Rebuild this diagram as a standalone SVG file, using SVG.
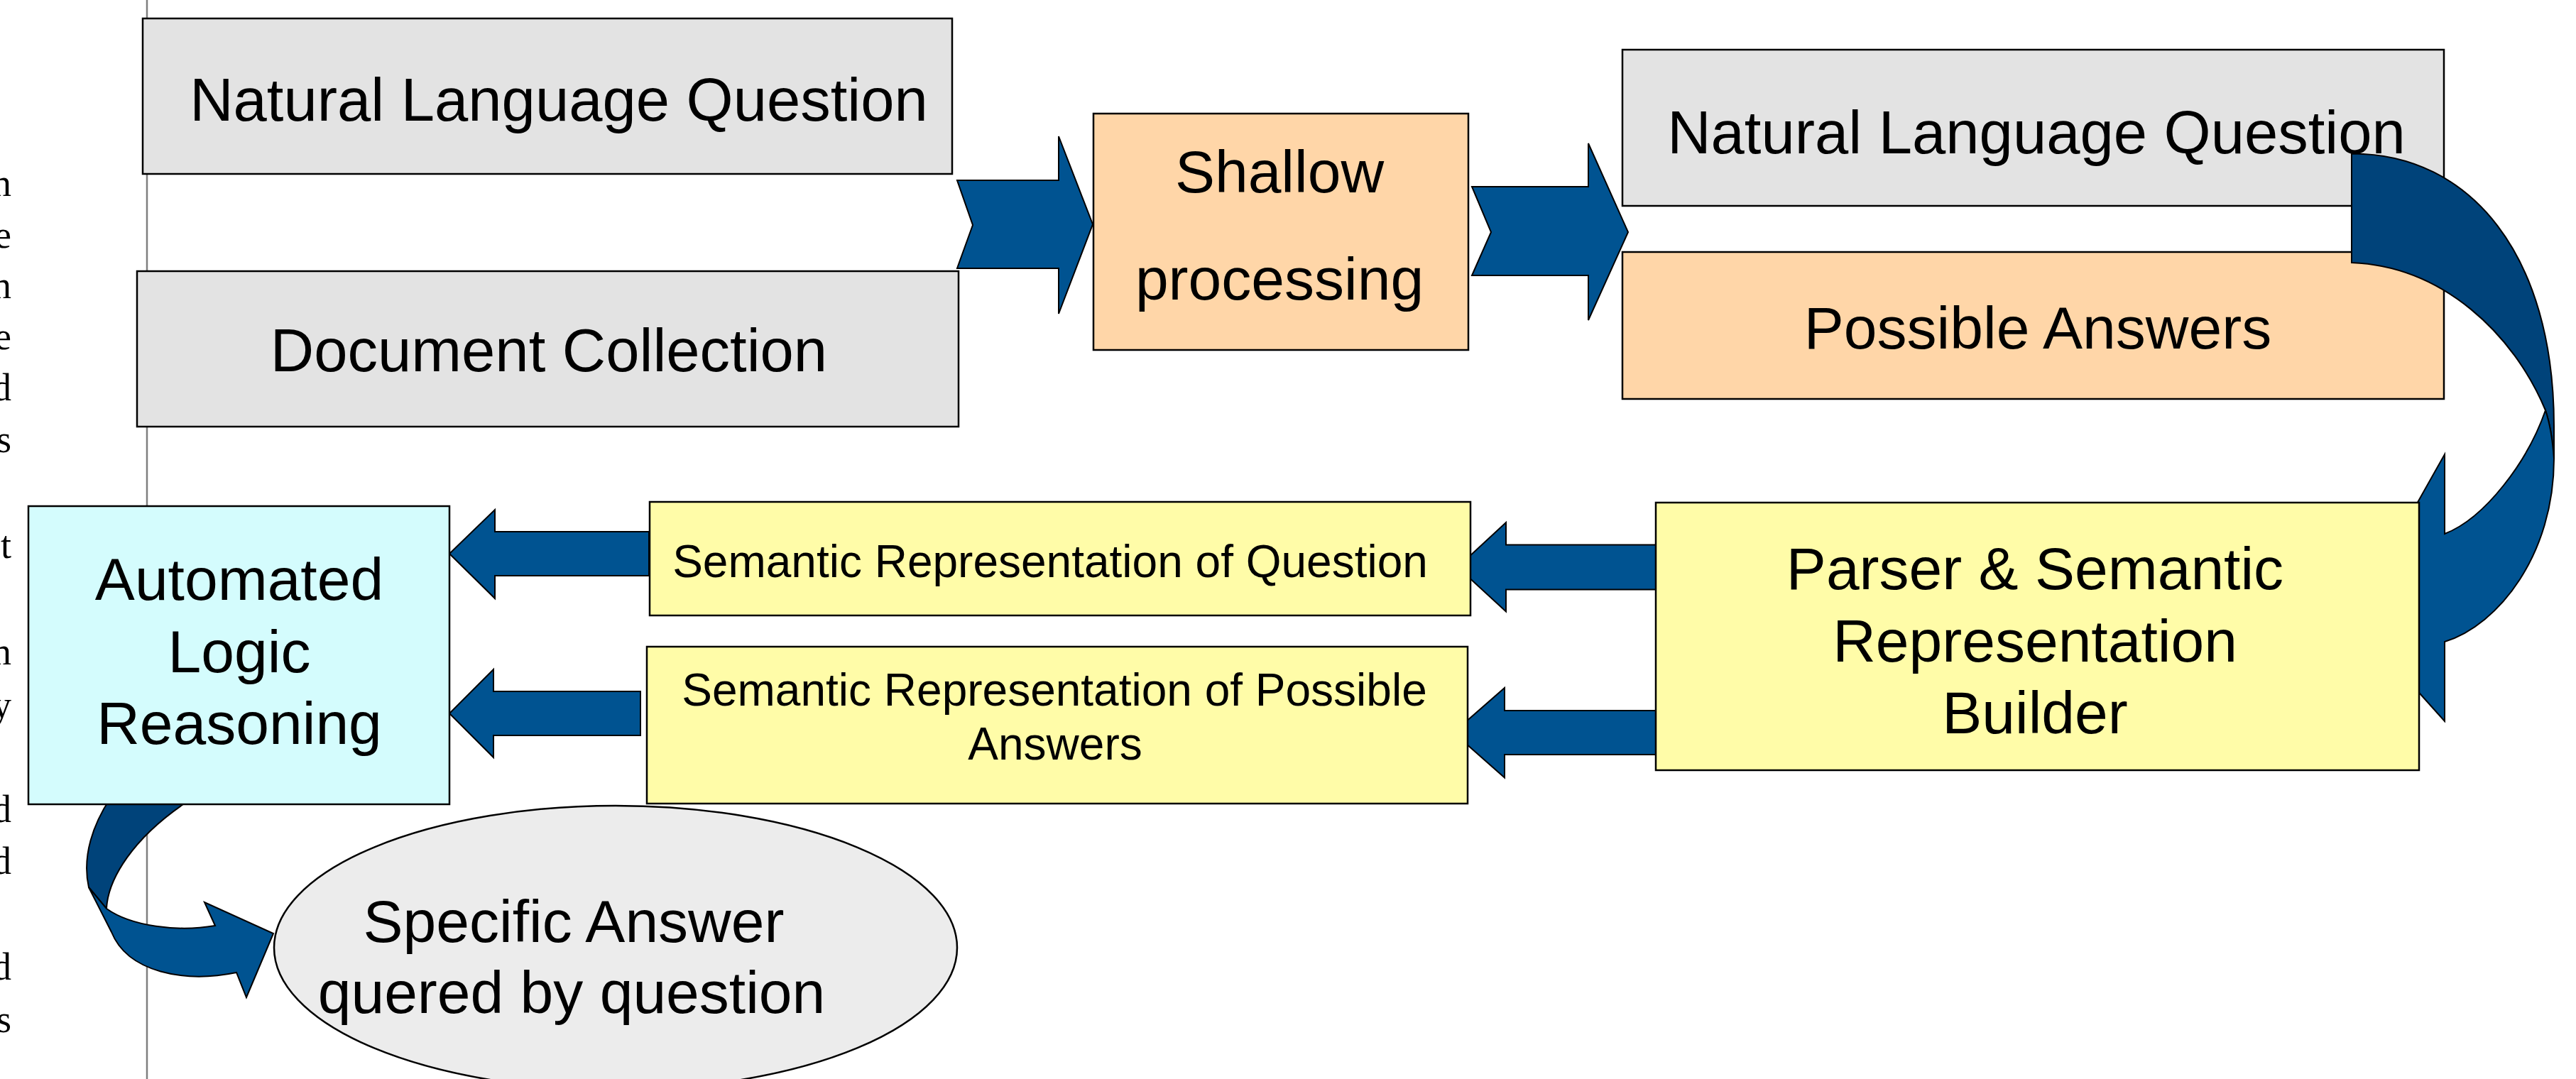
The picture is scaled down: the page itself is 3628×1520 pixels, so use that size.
<svg xmlns="http://www.w3.org/2000/svg" width="3628" height="1520" viewBox="0 0 3628 1520">
<style>
.box{stroke:#000;stroke-width:2.5}
.gray{fill:#e3e3e3}
.peach{fill:#ffd6a8}
.yellow{fill:#fffca8}
.cyan{fill:#d4fcfd}
.oval{fill:#ececec}
.t{font-family:"Liberation Sans",Arial,Helvetica,sans-serif;fill:#000;text-anchor:middle}
.b85{font-size:85px}
.b84{font-size:84px}
.m64{font-size:64px}
.arrow{fill:#005391;stroke:#000;stroke-width:2;stroke-linejoin:miter}
.dark{fill:#00437a}
.mg{font-family:"Liberation Serif","Times New Roman",serif;font-size:54px;fill:#000;text-anchor:end}
</style>
<rect width="3628" height="1520" fill="#fff"/>
<g id="margin-text">
<text class="mg" x="16" y="276">n</text>
<text class="mg" x="16" y="349">e</text>
<text class="mg" x="16" y="420">n</text>
<text class="mg" x="16" y="492">e</text>
<text class="mg" x="16" y="564">d</text>
<text class="mg" x="16" y="637">s</text>
<text class="mg" x="16" y="786">t</text>
<text class="mg" x="16" y="936">n</text>
<text class="mg" x="16" y="1011">y</text>
<text class="mg" x="16" y="1158">d</text>
<text class="mg" x="16" y="1231">d</text>
<text class="mg" x="16" y="1380">d</text>
<text class="mg" x="16" y="1454">s</text>
</g>
<line id="margin-line" x1="207" y1="0" x2="207" y2="1520" stroke="#7f7f7f" stroke-width="2.5"/>

<g id="node-nlq1">
<rect class="box gray" x="201" y="26" width="1140" height="219"/>
<text class="t b85" x="787" y="170">Natural Language Question</text>
</g>
<g id="node-doc">
<rect class="box gray" x="193" y="382" width="1157" height="219"/>
<text class="t b85" x="773" y="523">Document Collection</text>
</g>
<g id="node-shallow">
<rect class="box peach" x="1540" y="160" width="528" height="333"/>
<text class="t b84" x="1802" y="271">Shallow</text>
<text class="t b84" x="1802" y="422">processing</text>
</g>
<g id="node-nlq2">
<rect class="box gray" x="2285" y="70" width="1157" height="220"/>
<text class="t b85" x="2868" y="216">Natural Language Question</text>
</g>
<g id="node-pa">
<rect class="box peach" x="2285" y="355" width="1157" height="207"/>
<text class="t b84" x="2870" y="491">Possible Answers</text>
</g>

<g id="connectors">
<path id="arr-in-shallow" class="arrow" d="M1348,254 L1491,254 L1491,192 L1539,316 L1491,442 L1491,378 L1348,378 L1370,317 Z"/>
<path id="arr-out-shallow" class="arrow" d="M2073,263 L2237,263 L2237,202 L2293,327 L2237,451 L2237,388 L2073,388 L2100,327 Z"/>
<g id="arr-curve-right">
<path class="arrow dark" d="M3312,216.5 C3480,216 3597,360 3597,600 L3597,646 Q3594,605 3585,578 C3540,470 3440,375 3312,370 Z"/>
<path class="arrow" d="M3585,578 Q3594,605 3597,646 C3597,780 3520,880 3443,904 L3443,1016 L3313,871 L3443,640 L3443,752 C3500,730 3560,650 3585,578 Z"/>
</g>
<path id="arr-parser-srq" class="arrow" d="M2334,767.5 L2121,767.5 L2121,736 L2053,799 L2121,861.5 L2121,830.5 L2334,830.5 Z"/>
<path id="arr-parser-srpa" class="arrow" d="M2334,1001 L2119,1001 L2119,969 L2047,1032 L2119,1095.5 L2119,1063 L2334,1063 Z"/>
<path id="arr-srq-alr" class="arrow" d="M914,749 L697,749 L697,718 L633,780 L697,843 L697,811 L914,811 Z"/>
<path id="arr-srpa-alr" class="arrow" d="M902,974 L695,974 L695,943 L633,1005 L695,1067 L695,1036 L902,1036 Z"/>
<g id="arr-curve-left">
<path class="arrow dark" d="M155,1125 C132,1160 115,1205 125,1250 L150,1280 C152,1240 185,1180 270,1125 Z"/>
<path class="arrow" d="M125,1250 L157,1313 C180,1370 260,1385 333,1370 L347,1405 L385,1315 L288,1271 L303,1304 C250,1313 185,1305 150,1280 Z"/>
</g>
</g>

<g id="node-parser">
<rect class="box yellow" x="2332" y="708" width="1075" height="377"/>
<text class="t b84" x="2866" y="830">Parser &amp; Semantic</text>
<text class="t b84" x="2866" y="932">Representation</text>
<text class="t b84" x="2866" y="1033">Builder</text>
</g>
<g id="node-srq">
<rect class="box yellow" x="915" y="707" width="1156" height="160"/>
<text class="t m64" x="1479" y="813">Semantic Representation of Question</text>
</g>
<g id="node-srpa">
<rect class="box yellow" x="911" y="911" width="1156" height="221"/>
<text class="t m64" x="1485" y="994">Semantic Representation of Possible</text>
<text class="t m64" x="1486" y="1070">Answers</text>
</g>
<g id="node-alr">
<rect class="box cyan" x="40" y="713" width="593" height="420"/>
<text class="t b84" x="337" y="845">Automated</text>
<text class="t b84" x="337" y="947">Logic</text>
<text class="t b84" x="337" y="1048">Reasoning</text>
</g>
<g id="node-answer">
<ellipse class="box oval" cx="867" cy="1335" rx="481" ry="200"/>
<text class="t b84" x="808" y="1327">Specific Answer</text>
<text class="t b84" x="805" y="1427">quered by question</text>
</g>
</svg>
